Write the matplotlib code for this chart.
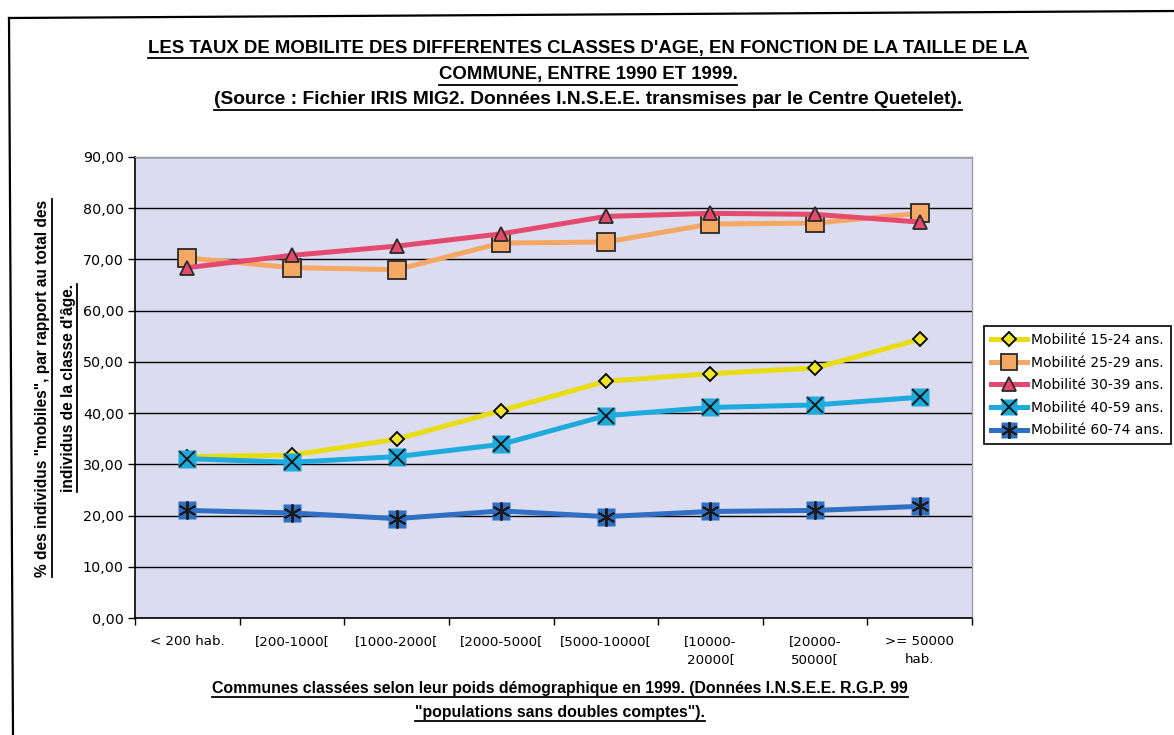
#!/usr/bin/env python3
# Taux de mobilité par classe d'âge selon la taille de la commune (1990-1999)

import matplotlib
matplotlib.use("Agg")
import matplotlib.pyplot as plt
from matplotlib.lines import Line2D
from matplotlib.ticker import FixedLocator, FuncFormatter
from matplotlib.transforms import IdentityTransform

W, H = 1174, 735

categories = ["< 200 hab.", "[200-1000[", "[1000-2000[", "[2000-5000[",
              "[5000-10000[", "[10000-\n20000[", "[20000-\n50000[",
              ">= 50000\nhab."]

mob_15_24 = [31.5, 31.8, 34.9, 40.5, 46.2, 47.7, 48.8, 54.4]
mob_25_29 = [70.3, 68.4, 68.0, 73.2, 73.4, 76.9, 77.1, 79.0]
mob_30_39 = [68.4, 70.8, 72.6, 75.0, 78.4, 79.0, 78.8, 77.3]
mob_40_59 = [31.1, 30.4, 31.5, 33.9, 39.5, 41.1, 41.6, 43.1]
mob_60_74 = [21.0, 20.5, 19.4, 20.9, 19.8, 20.8, 21.0, 21.8]

series_labels = ["Mobilité 15-24 ans.", "Mobilité 25-29 ans.",
                 "Mobilité 30-39 ans.", "Mobilité 40-59 ans.",
                 "Mobilité 60-74 ans."]

title_lines = [
    "LES TAUX DE MOBILITE DES DIFFERENTES CLASSES D'AGE, EN FONCTION DE LA TAILLE DE LA",
    "COMMUNE, ENTRE 1990 ET 1999.",
    "(Source : Fichier IRIS MIG2. Données I.N.S.E.E. transmises par le Centre Quetelet).",
]
xlabel_lines = [
    "Communes classées selon leur poids démographique en 1999. (Données I.N.S.E.E. R.G.P. 99",
    "\"populations sans doubles comptes\").",
]
ylabel_lines = [
    "% des individus \"mobiles\", par rapport au total des",
    "individus de la classe d'âge.",
]

TITLE_FONT = ["Liberation Sans", "DejaVu Sans"]
TICK_FONT = ["DejaVu Sans"]

fig = plt.figure(figsize=(W / 100, H / 100), dpi=100)
fig.patch.set_facecolor("white")


def px(x, y):
    # pixel position (top-left origin) -> figure fraction
    return x / W, 1 - y / H


l, b = px(135, 618)
r, t = px(972, 157)
ax = fig.add_axes([l, b, r - l, t - b])
ax.set_facecolor("#dcdcf0")

x = list(range(len(categories)))

ax.plot(x, mob_15_24, color="#e8dc14", lw=3.6, marker="D", ms=7.5,
        mfc="#f0e628", mec="black", mew=1.3, zorder=3)
ax.plot(x, mob_25_29, color="#f5a864", lw=3.6, marker="s", ms=13,
        mfc="#f5a864", mec="#2a2a2a", mew=1.3, zorder=4)
ax.plot(x, mob_30_39, color="#e44a6e", lw=3.6, marker="^", ms=10,
        mfc="#e44a6e", mec="#2a2a2a", mew=1.3, zorder=5)
ax.plot(x, mob_40_59, color="#1eaadc", lw=3.6, marker="s", ms=13,
        mfc="#1eaadc", mec="none", zorder=6)
ax.plot(x, mob_40_59, ls="none", marker="x", ms=12, mec="#1a1a1a",
        mew=1.4, zorder=7)
ax.plot(x, mob_60_74, color="#2f6fc4", lw=3.6, marker="s", ms=13,
        mfc="#2f6fc4", mec="none", zorder=8)
ax.plot(x, mob_60_74, ls="none", marker=(6, 2, 0), ms=13, mec="#1a1a1a",
        mew=1.4, zorder=9)

ax.set_xlim(-0.5, len(categories) - 0.5)
ax.set_ylim(0, 90)

# horizontal gridlines
ax.set_yticks([i * 10 for i in range(10)])
ax.yaxis.set_major_formatter(FuncFormatter(lambda v, p: f"{v:.2f}".replace(".", ",")))
ax.grid(axis="y", color="black", lw=1.0, zorder=1)
ax.set_axisbelow(True)
ax.tick_params(axis="y", direction="out", length=5, width=1, pad=3,
               labelsize=10.3, colors="black")
for lab in ax.get_yticklabels():
    lab.set_family(TICK_FONT)

# category labels centred, tick marks on the boundaries
ax.set_xticks(x)
ax.set_xticklabels(categories, family=TICK_FONT, fontsize=9.6, linespacing=1.5,
                   va="top")
ax.tick_params(axis="x", which="major", length=0, pad=12)
ax.xaxis.set_minor_locator(FixedLocator([i + 0.5 for i in range(-1, len(categories))]))
ax.tick_params(axis="x", which="minor", direction="out", length=5, width=1)

for side in ("left", "bottom"):
    ax.spines[side].set_color("black")
    ax.spines[side].set_linewidth(1.2)
for side in ("top", "right"):
    ax.spines[side].set_color("#9a9aa8")
    ax.spines[side].set_linewidth(1.0)

# legend: crossed markers built from overlaid handles
h1 = Line2D([], [], color="#e8dc14", lw=3.6, marker="D", ms=7, mfc="#f0e628",
            mec="black", mew=1.3)
h2 = Line2D([], [], color="#f5a864", lw=3.6, marker="s", ms=12, mfc="#f5a864",
            mec="#2a2a2a", mew=1.3)
h3 = Line2D([], [], color="#e44a6e", lw=3.6, marker="^", ms=10, mfc="#e44a6e",
            mec="#2a2a2a", mew=1.3)
h4 = (Line2D([], [], color="#1eaadc", lw=3.6, marker="s", ms=12, mfc="#1eaadc",
             mec="none"),
      Line2D([], [], ls="none", marker="x", ms=11, mec="#1a1a1a", mew=1.4))
h5 = (Line2D([], [], color="#2f6fc4", lw=3.6, marker="s", ms=12, mfc="#2f6fc4",
             mec="none"),
      Line2D([], [], ls="none", marker=(6, 2, 0), ms=12, mec="#1a1a1a", mew=1.4))
lx, ly = px(984, 326)
leg = fig.legend([h1, h2, h3, h4, h5], series_labels, loc="upper left",
                 bbox_to_anchor=(lx, ly), frameon=True, fancybox=False,
                 edgecolor="black", framealpha=1, handlelength=2.6,
                 handletextpad=0.3, labelspacing=0.62, borderpad=0.5,
                 borderaxespad=0, prop={"family": TICK_FONT, "size": 10})
leg.get_frame().set_linewidth(1.2)

# titles
texts_h = []
for (ty, s, fs) in zip((48, 75, 100), title_lines, (13.4, 13.4, 13.8)):
    tx, tyf = px(588, ty)
    texts_h.append(fig.text(tx, tyf, s, ha="center", va="center",
                            family=TITLE_FONT, weight="bold", fontsize=fs))
for (ty, s) in zip((688, 712), xlabel_lines):
    tx, tyf = px(560, ty)
    texts_h.append(fig.text(tx, tyf, s, ha="center", va="center",
                            family=TITLE_FONT, weight="bold", fontsize=11.4))

texts_v = []
for (tx, s) in zip((43, 68), ylabel_lines):
    txf, tyf = px(tx, 388)
    texts_v.append(fig.text(txf, tyf, s, ha="center", va="center", rotation=90,
                            family=TITLE_FONT, weight="bold", fontsize=11.2))

# underline the captions
fig.canvas.draw()
renderer = fig.canvas.get_renderer()
for txt in texts_h:
    bb = txt.get_window_extent(renderer)
    fig.add_artist(Line2D([bb.x0, bb.x1], [bb.y0 - 1, bb.y0 - 1],
                          transform=IdentityTransform(), color="black", lw=1.3))
for txt in texts_v:
    bb = txt.get_window_extent(renderer)
    fig.add_artist(Line2D([bb.x1 + 1, bb.x1 + 1], [bb.y0, bb.y1],
                          transform=IdentityTransform(), color="black", lw=1.3))

# page frame (top and left edges)
fig.add_artist(Line2D([9 / W, 1.0], [1 - 18 / H, 1 - 11 / H],
                      transform=fig.transFigure, color="black", lw=1.6))
fig.add_artist(Line2D([9 / W, 13 / W], [1 - 18 / H, 0.0],
                      transform=fig.transFigure, color="black", lw=1.6))

fig.savefig("out.png", dpi=100, facecolor="white")
